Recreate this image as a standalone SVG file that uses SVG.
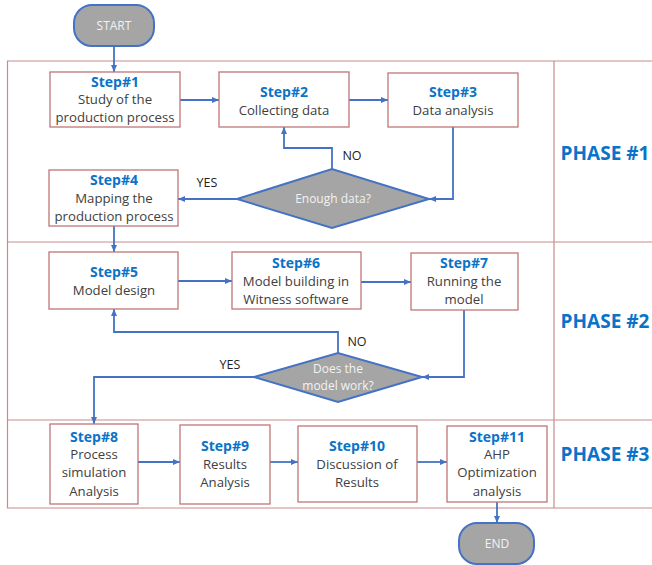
<svg xmlns="http://www.w3.org/2000/svg" width="652" height="565" viewBox="0 0 652 565">
<defs>
<marker id="ah" markerWidth="8" markerHeight="8" refX="7" refY="4" orient="auto" markerUnits="userSpaceOnUse">
<path d="M0,1 L7,4 L0,7 Z" fill="#4472c4"/>
</marker>
<style>
.frame{fill:none;stroke:#c98b8b;stroke-width:1.2}
.box{fill:#fff;stroke:#c07575;stroke-width:1.3}
.term{fill:#a5a5a5;stroke:#4472c4;stroke-width:2}
.dia{fill:#a5a5a5;stroke:#4472c4;stroke-width:2}
.con{fill:none;stroke:#4472c4;stroke-width:1.8;marker-end:url(#ah)}
.st{font-family:"Open Sans","Liberation Sans",sans-serif;font-weight:bold;font-size:14px;fill:#0a73c8;text-anchor:middle}
.tx{font-family:"Open Sans","Liberation Sans",sans-serif;font-size:13.2px;fill:#404040;text-anchor:middle}
.wt{font-family:"Open Sans","Liberation Sans",sans-serif;font-size:12px;fill:#f2f2f2;text-anchor:middle}
.lb{font-family:"Open Sans","Liberation Sans",sans-serif;font-size:12.5px;fill:#222;text-anchor:middle}
.ph{font-family:"Open Sans","Liberation Sans",sans-serif;font-weight:bold;font-size:19px;fill:#0a73c8;text-anchor:middle}
</style>
</defs>
<rect width="652" height="565" fill="#fff"/>
<g id="frame">
<path class="frame" d="M652,61 H7.5 V508 H652 M7.5,242 H652 M7.5,420 H652 M554,61 V508"/>
</g>
<g id="phase1"><text class="ph" x="605" y="160">PHASE #1</text></g>
<g id="phase2"><text class="ph" x="605" y="328">PHASE #2</text></g>
<g id="phase3"><text class="ph" x="605" y="461">PHASE #3</text></g>
<g id="connectors">
<path class="con" d="M114,46 V72"/>
<path class="con" d="M180,100 H219"/>
<path class="con" d="M349,100 H388"/>
<path class="con" d="M453,127 V199 H429"/>
<path class="con" d="M332,169 V148 H284 V127"/>
<path class="con" d="M237,199 H178"/>
<path class="con" d="M114,226 V252"/>
<path class="con" d="M178,281 H232"/>
<path class="con" d="M361,282 H411"/>
<path class="con" d="M464,310 V377 H422"/>
<path class="con" d="M338,353 V332 H114 V309"/>
<path class="con" d="M254,377 H94 V424"/>
<path class="con" d="M138,462 H180"/>
<path class="con" d="M270,462 H298"/>
<path class="con" d="M417,462 H447"/>
<path class="con" d="M497,502 V523"/>
</g>
<g id="labels">
<text class="lb" x="352" y="160">NO</text>
<text class="lb" x="207" y="187">YES</text>
<text class="lb" x="357" y="346">NO</text>
<text class="lb" x="230" y="369">YES</text>
</g>
<g id="start">
<rect class="term" x="74" y="5" width="80" height="41" rx="18"/>
<text class="wt" x="114" y="30">START</text>
</g>
<g id="step1">
<rect class="box" x="50" y="72" width="130" height="55"/>
<text class="st" x="115" y="87">Step#1</text>
<text class="tx" x="115" y="104">Study of the</text>
<text class="tx" x="115" y="122">production process</text>
</g>
<g id="step2">
<rect class="box" x="219" y="72" width="130" height="55"/>
<text class="st" x="284" y="97">Step#2</text>
<text class="tx" x="284" y="115">Collecting data</text>
</g>
<g id="step3">
<rect class="box" x="388" y="73" width="130" height="54"/>
<text class="st" x="453" y="97">Step#3</text>
<text class="tx" x="453" y="115">Data analysis</text>
</g>
<g id="decision1">
<polygon class="dia" points="237,199 332,169 429,199 332,228"/>
<text class="wt" x="333" y="203">Enough data?</text>
</g>
<g id="step4">
<rect class="box" x="49" y="170" width="129" height="56"/>
<text class="st" x="114" y="185">Step#4</text>
<text class="tx" x="114" y="203">Mapping the</text>
<text class="tx" x="114" y="221">production process</text>
</g>
<g id="step5">
<rect class="box" x="49" y="252" width="129" height="57"/>
<text class="st" x="114" y="277">Step#5</text>
<text class="tx" x="114" y="295">Model design</text>
</g>
<g id="step6">
<rect class="box" x="232" y="252" width="129" height="57"/>
<text class="st" x="296" y="268">Step#6</text>
<text class="tx" x="296" y="286">Model building in</text>
<text class="tx" x="296" y="304">Witness software</text>
</g>
<g id="step7">
<rect class="box" x="411" y="253" width="107" height="57"/>
<text class="st" x="464" y="268">Step#7</text>
<text class="tx" x="464" y="286">Running the</text>
<text class="tx" x="464" y="304">model</text>
</g>
<g id="decision2">
<polygon class="dia" points="254,377 338,353 422,377 338,402"/>
<text class="wt" x="338" y="373">Does the</text>
<text class="wt" x="338" y="390">model work?</text>
</g>
<g id="step8">
<rect class="box" x="50" y="424" width="88" height="80"/>
<text class="st" x="94" y="442">Step#8</text>
<text class="tx" x="94" y="459">Process</text>
<text class="tx" x="94" y="477">simulation</text>
<text class="tx" x="94" y="496">Analysis</text>
</g>
<g id="step9">
<rect class="box" x="180" y="425" width="90" height="79"/>
<text class="st" x="225" y="451">Step#9</text>
<text class="tx" x="225" y="469">Results</text>
<text class="tx" x="225" y="487">Analysis</text>
</g>
<g id="step10">
<rect class="box" x="298" y="426" width="119" height="76"/>
<text class="st" x="357" y="451">Step#10</text>
<text class="tx" x="357" y="469">Discussion of</text>
<text class="tx" x="357" y="487">Results</text>
</g>
<g id="step11">
<rect class="box" x="447" y="426" width="100" height="76"/>
<text class="st" x="497" y="442">Step#11</text>
<text class="tx" x="497" y="459">AHP</text>
<text class="tx" x="497" y="477">Optimization</text>
<text class="tx" x="497" y="496">analysis</text>
</g>
<g id="end">
<rect class="term" x="459" y="523" width="75" height="41" rx="18"/>
<text class="wt" x="497" y="548">END</text>
</g>
</svg>
